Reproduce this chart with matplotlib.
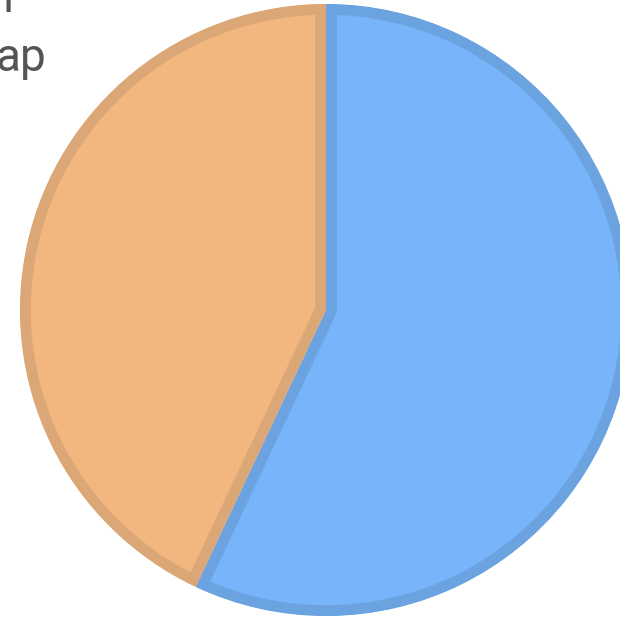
import matplotlib
matplotlib.use('Agg')
import matplotlib.pyplot as plt

# slice data
labels=['A','B']
values=[57,43]
fills=['#78b4f9','#f2b77e']
edges=['#6aa3e0','#dba776']

fig=plt.figure(figsize=(6.2,6.17),dpi=100)
ax=fig.add_axes([0,0,1,1])
wedges,_=ax.pie(values,startangle=90,counterclock=False,colors=fills,radius=1.0,
	wedgeprops=dict(linewidth=15.5))
for w,ec in zip(wedges,edges):
	w.set_edgecolor(ec)
	w.set_clip_on(True)
	w.set_clip_path(w)	# keep stroke inside wedge
ax.set_xlim(-326/306.,294/306.)
ax.set_ylim(-307/306.,310/306.)
ax.set_aspect('auto')
ax.axis('off')

# cropped title text
fig.text(3/620.,1-12/617.,'l',fontsize=33,color='#555555',family='Roboto',va='baseline',ha='left')
fig.text(-5/620.,1-71/617.,'ap',fontsize=33,color='#555555',family='Roboto',va='baseline',ha='left')

fig.savefig('out.png',dpi=100)
